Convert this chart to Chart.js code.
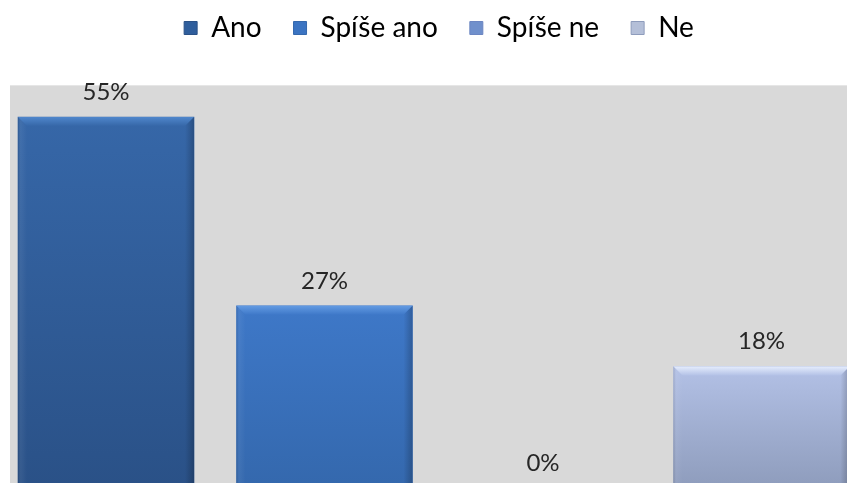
<!DOCTYPE html>
<html>
<head>
<meta charset="utf-8">
<script src="https://cdn.jsdelivr.net/npm/chart.js@4.4.0/dist/chart.umd.min.js"></script>
<style>
  html, body { margin: 0; padding: 0; background: #fff; overflow: hidden; }
  #wrap { width: 847px; height: 483px; }
</style>
</head>
<body>
<div id="wrap"><canvas id="answersChart" width="847" height="483"></canvas></div>
<script>
var categories = ["Ano", "Spíše ano", "Spíše ne", "Ne"];
var shares = [55, 27, 0, 18];

var legendColors = ["#2f5e9c", "#3b74c2", "#7090cc", "#b4bfd8"];
var barTopColors = ["#3667a8", "#3e78c8", "#86a0da", "#b3c1e6"];
var barBottomColors = ["#2a5187", "#3468ad", "#6c86c2", "#8e9cbc"];
var bevelColors = ["#5087cc", "#629ae2", "#aabfeb", "#e4ecfc"];

var fontFamily = "Lato, 'Open Sans', sans-serif";

// vertical gradient running from the top of each bar down to the baseline
function barGradient(context) {
  var chart = context.chart;
  var i = context.dataIndex;
  var yScale = chart.scales.y;
  if (!chart.chartArea || !yScale) return barTopColors[i];
  var top = yScale.getPixelForValue(shares[i]);
  var bottom = yScale.getPixelForValue(0);
  if (bottom - top < 1) return barTopColors[i];
  var g = chart.ctx.createLinearGradient(0, top, 0, bottom);
  g.addColorStop(0, barTopColors[i]);
  g.addColorStop(1, barBottomColors[i]);
  return g;
}

var plotBackground = {
  id: "plotBackground",
  beforeDraw: function (chart) {
    var a = chart.chartArea, c = chart.ctx;
    c.save();
    c.fillStyle = "#d9d9d9";
    c.fillRect(a.left, a.top, a.right - a.left, a.bottom - a.top);
    c.fillStyle = "#e6e6e6";
    c.fillRect(a.left, a.top, a.right - a.left, 1);
    c.restore();
  }
};

// soft bevel: light top face, shaded side faces
var barBevel = {
  id: "barBevel",
  afterDatasetsDraw: function (chart) {
    var c = chart.ctx, a = chart.chartArea;
    var meta = chart.getDatasetMeta(0);
    c.save();
    c.beginPath();
    c.rect(a.left, a.top, a.right - a.left, a.bottom - a.top);
    c.clip();
    meta.data.forEach(function (bar, i) {
      var p = bar.getProps(["x", "y", "width", "base"], true);
      var h = p.base - p.y;
      if (h < 2) return;
      var l = p.x - p.width / 2, r = p.x + p.width / 2, b = Math.min(9, h / 2);

      var g = c.createLinearGradient(0, p.y, 0, p.y + b);
      g.addColorStop(0, bevelColors[i]);
      g.addColorStop(1, barTopColors[i]);
      c.fillStyle = g;
      c.beginPath();
      c.moveTo(l, p.y); c.lineTo(r, p.y); c.lineTo(r - b, p.y + b); c.lineTo(l + b, p.y + b);
      c.closePath();
      c.fill();

      var gl = c.createLinearGradient(l, 0, l + b, 0);
      gl.addColorStop(0, "rgba(0,0,0,0.12)");
      gl.addColorStop(0.3, "rgba(255,255,255,0.06)");
      gl.addColorStop(1, "rgba(255,255,255,0)");
      c.fillStyle = gl;
      c.beginPath();
      c.moveTo(l, p.y); c.lineTo(l + b, p.y + b); c.lineTo(l + b, p.base); c.lineTo(l, p.base);
      c.closePath();
      c.fill();

      var gr = c.createLinearGradient(r - b, 0, r, 0);
      gr.addColorStop(0, "rgba(0,0,0,0)");
      gr.addColorStop(1, "rgba(0,0,0,0.22)");
      c.fillStyle = gr;
      c.beginPath();
      c.moveTo(r, p.y); c.lineTo(r - b, p.y + b); c.lineTo(r - b, p.base); c.lineTo(r, p.base);
      c.closePath();
      c.fill();
    });
    c.restore();
  }
};

var barLabels = {
  id: "barLabels",
  afterDatasetsDraw: function (chart) {
    var c = chart.ctx;
    var meta = chart.getDatasetMeta(0);
    c.save();
    c.font = "24px " + fontFamily;
    c.fillStyle = "#262626";
    c.textAlign = "center";
    c.textBaseline = "middle";
    meta.data.forEach(function (bar, i) {
      c.fillText(shares[i] + "%", bar.x, bar.y - 25);
    });
    c.restore();
  }
};

new Chart("answersChart", {
  type: "bar",
  data: {
    labels: categories,
    datasets: [{
      label: "Odpovědi",
      data: shares.map(function (v, i) { return { x: i, y: v }; }),
      backgroundColor: barGradient,
      borderWidth: 0,
      barThickness: 176
    }]
  },
  options: {
    responsive: false,
    animation: false,
    layout: { padding: { left: 10, right: -21, top: -18, bottom: 0 } },
    scales: {
      x: {
        type: "linear",
        position: "top",
        offset: false,
        min: -0.4394,
        max: 3.3913,
        ticks: { display: false },
        grid: { display: false },
        border: { display: false },
        afterFit: function (scale) { scale.height = 33; }
      },
      y: { display: false, min: 0.74, max: 59.74 }
    },
    plugins: {
      legend: {
        position: "top",
        labels: {
          boxWidth: 13,
          boxHeight: 13,
          padding: 32,
          color: "#262626",
          font: { family: fontFamily, size: 28 },
          generateLabels: function () {
            return categories.map(function (name, i) {
              return {
                text: name,
                fillStyle: legendColors[i],
                strokeStyle: barBottomColors[i],
                lineWidth: 1,
                hidden: false,
                index: i,
                datasetIndex: 0
              };
            });
          }
        }
      },
      tooltip: { enabled: false }
    }
  },
  plugins: [plotBackground, barBevel, barLabels]
});
</script>
</body>
</html>
